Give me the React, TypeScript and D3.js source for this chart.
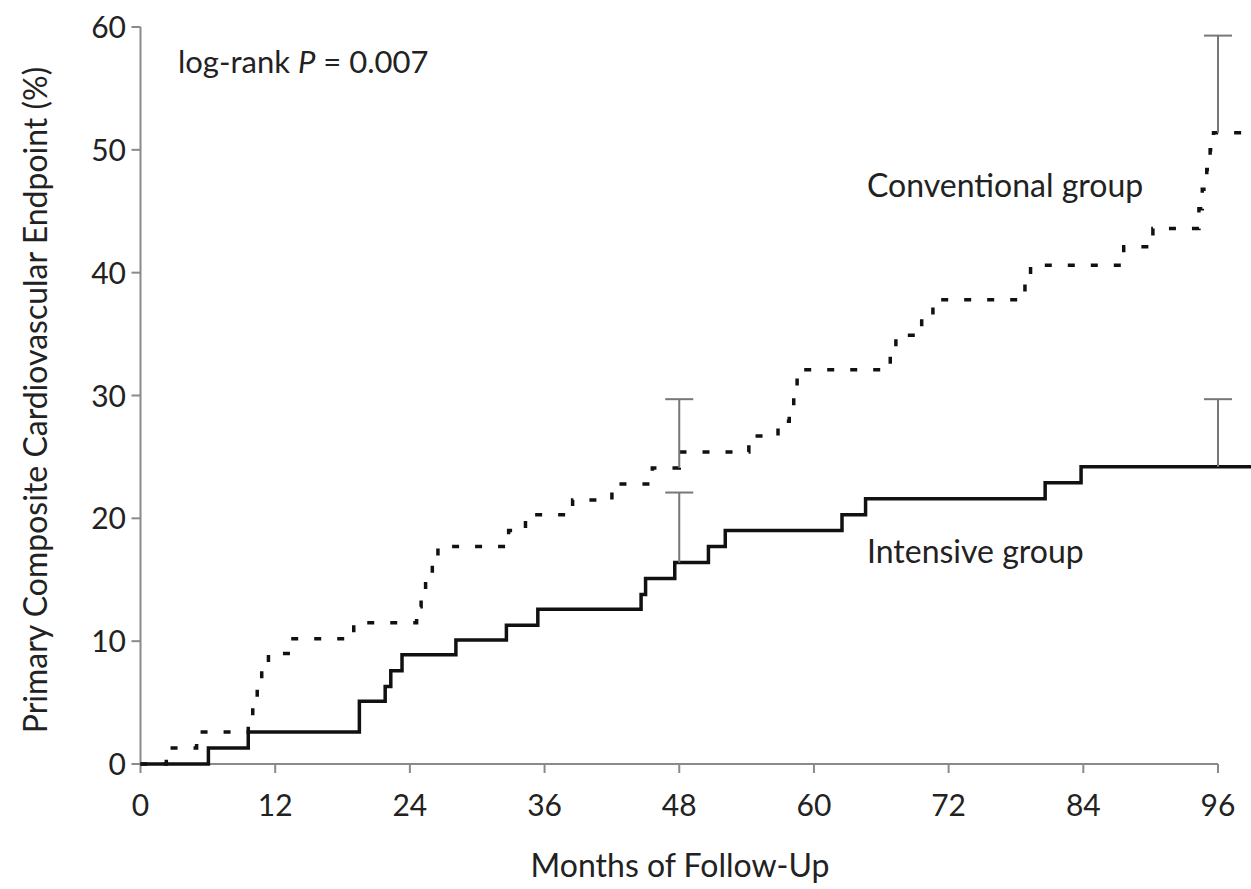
import React from "react";
import * as d3 from "d3";

// ---- data ----
const xTicks = [0, 12, 24, 36, 48, 60, 72, 84, 96];
const yTicks = [0, 10, 20, 30, 40, 50, 60];

// Kaplan-Meier cumulative incidence (%), step after: [month, %]
const conventionalMonths = [0, 2.3, 5.0, 9.6, 10.0, 10.4, 10.8, 11.4, 13.4, 19.0, 24.6, 25.0, 25.4, 26.0, 26.5, 32.8, 34.3, 38.5, 42.0, 45.6, 48.0, 54.2, 56.8, 57.8, 58.2, 58.5, 66.8, 67.3, 69.6, 70.6, 78.8, 79.3, 87.6, 90.2, 94.3, 94.6, 95.0, 95.3, 95.6, 99.5];
const conventionalPct = [0, 1.3, 2.6, 3.9, 5.2, 6.5, 7.8, 9.0, 10.2, 11.5, 12.8, 14.0, 15.3, 16.5, 17.7, 19.0, 20.3, 21.5, 22.8, 24.1, 25.4, 26.7, 27.9, 29.2, 30.6, 32.1, 33.5, 34.9, 36.3, 37.8, 39.2, 40.6, 42.1, 43.6, 45.2, 46.8, 48.4, 50.0, 51.4, 51.4];

const intensiveMonths = [0, 6.05, 9.6, 19.5, 21.8, 22.3, 23.3, 28.1, 32.6, 35.4, 44.6, 45.0, 47.6, 50.6, 52.1, 62.5, 64.6, 80.6, 83.8, 99.5];
const intensivePct = [0, 1.3, 2.6, 5.1, 6.3, 7.6, 8.9, 10.1, 11.3, 12.6, 13.8, 15.1, 16.4, 17.7, 19.0, 20.3, 21.6, 22.9, 24.2, 24.2];

// error bars: month, low %, high %
const errMonths = [48, 48, 96, 96];
const errLow = [16.4, 24.1, 24.2, 51.4];
const errHigh = [22.1, 29.7, 29.7, 59.3];

const W = 1251;
const H = 889;
const FONT = "Lato, 'Open Sans', sans-serif";

export default function App() {
  const x = d3.scaleLinear().domain([0, 96]).range([140.5, 1218]);
  const y = d3.scaleLinear().domain([0, 60]).range([764, 27]);

  const line = d3
    .line<[number, number]>()
    .x((d) => x(d[0]))
    .y((d) => y(d[1]))
    .curve(d3.curveStepAfter);

  const conv: [number, number][] = conventionalMonths.map((m, i) => [m, conventionalPct[i]]);
  const inten: [number, number][] = intensiveMonths.map((m, i) => [m, intensivePct[i]]);

  const axisColor = "#8a8a8a";
  const textColor = "#222";

  return (
    <div style={{ position: "absolute", left: 0, top: 0 }}>
      <svg width={W} height={H} style={{ display: "block", background: "#fff" }}>
        {/* axes */}
        <line x1={x(0)} x2={x(0)} y1={y(60)} y2={y(0)} stroke={axisColor} strokeWidth={2} />
        <line x1={x(0)} x2={x(96)} y1={y(0)} y2={y(0)} stroke={axisColor} strokeWidth={2} />
        {yTicks.map((t) => (
          <g key={"y" + t}>
            <line x1={x(0) - 9} x2={x(0)} y1={y(t)} y2={y(t)} stroke={axisColor} strokeWidth={2} />
            <text
              x={126}
              y={y(t) + 11}
              textAnchor="end"
              fontFamily={FONT}
              fontSize={30}
              fill={textColor}
            >
              {t}
            </text>
          </g>
        ))}
        {xTicks.map((t) => (
          <g key={"x" + t}>
            <line x1={x(t)} x2={x(t)} y1={y(0)} y2={y(0) + 9} stroke={axisColor} strokeWidth={2} />
            <text
              x={x(t)}
              y={816}
              textAnchor="middle"
              fontFamily={FONT}
              fontSize={30}
              fill={textColor}
            >
              {t}
            </text>
          </g>
        ))}

        {/* axis titles */}
        <text
          x={680}
          y={877}
          textAnchor="middle"
          fontFamily={FONT}
          fontSize={32}
          fill={textColor}
        >
          Months of Follow-Up
        </text>
        <text
          transform={`translate(47, ${400}) rotate(-90)`}
          textAnchor="middle"
          fontFamily={FONT}
          fontSize={32}
          fill={textColor}
        >
          Primary Composite Cardiovascular Endpoint (%)
        </text>

        {/* curves */}
        <defs>
          <clipPath id="plotclip">
            <rect x={0} y={0} width={W} height={H} />
          </clipPath>
        </defs>
        <g clipPath="url(#plotclip)">
          <path
            d={line(conv) || ""}
            fill="none"
            stroke="#111"
            strokeWidth={3.5}
            strokeDasharray="7 16"
          />
          <path d={line(inten) || ""} fill="none" stroke="#111" strokeWidth={3.5} />
        </g>

        {/* error bars */}
        {errMonths.map((m, i) => (
          <g key={"e" + i}>
            <line x1={x(m)} x2={x(m)} y1={y(errLow[i])} y2={y(errHigh[i])} stroke="#777" strokeWidth={2} />
            <line x1={x(m) - 14} x2={x(m) + 14} y1={y(errHigh[i])} y2={y(errHigh[i])} stroke="#777" strokeWidth={2} />
          </g>
        ))}

        {/* annotations */}
        <text x={178} y={73} fontFamily={FONT} fontSize={31} fill={textColor}>
          log-rank <tspan fontStyle="italic">P</tspan> = 0.007
        </text>
        <text x={867} y={197} fontFamily={FONT} fontSize={32} fill={textColor}>
          Conventional group
        </text>
        <text x={867} y={563} fontFamily={FONT} fontSize={32} fill={textColor}>
          Intensive group
        </text>
      </svg>
    </div>
  );
}
